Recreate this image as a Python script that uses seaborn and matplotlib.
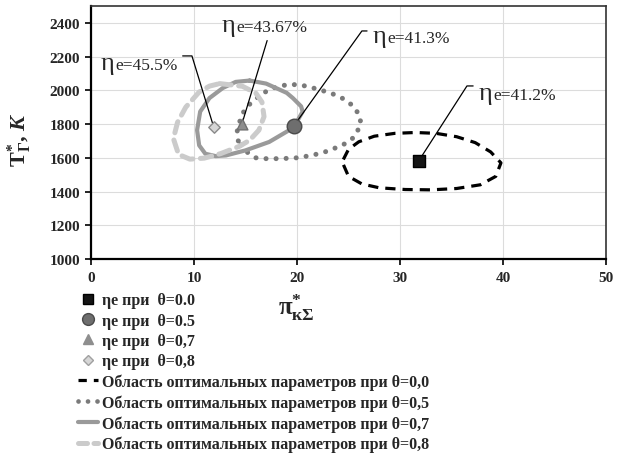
import matplotlib
matplotlib.use("Agg")
import matplotlib.pyplot as plt
from matplotlib.lines import Line2D
from matplotlib.transforms import offset_copy
import seaborn as sns
import pandas as pd

# ---- data -------------------------------------------------------------
theta_marker_labels = ["ηе при  θ=0.0", "ηе при  θ=0.5", "ηе при  θ=0,7", "ηе при  θ=0,8"]
theta_region_labels = ["Область оптимальных параметров при θ=0,0",
                       "Область оптимальных параметров при θ=0,5",
                       "Область оптимальных параметров при θ=0,7",
                       "Область оптимальных параметров при θ=0,8"]

# optimum points (pi_k, T_g) and efficiency at them
opt_pi = [31.8, 19.7, 14.7, 11.9]
opt_T = [1580, 1790, 1800, 1785]
opt_eta = ["41.2", "41.3", "43.67", "45.5"]

# boundaries of the optimal-parameter regions (closed contours)
reg00_pi = [24.5, 25.0, 26.0, 27.5, 29.5, 31.5, 33.5, 35.5, 37.3, 38.8, 39.8, 39.3,
            37.8, 35.5, 33.0, 30.5, 28.0, 26.3, 25.0, 24.5]
reg00_T = [1590, 1650, 1695, 1728, 1745, 1750, 1745, 1725, 1690, 1635, 1570, 1490,
           1440, 1418, 1410, 1412, 1422, 1445, 1490, 1560]

reg05_pi = [14.3, 14.2, 14.6, 15.1, 15.8, 16.6, 17.4, 18.5, 19.5, 20.5, 21.5, 22.5,
            23.5, 24.5, 25.4, 26.1, 26.2, 25.5, 24.5, 23.0, 21.5, 20.0, 18.5, 17.0,
            16.0, 15.0]
reg05_T = [1700, 1760, 1850, 1900, 1940, 1978, 2008, 2028, 2035, 2030, 2015, 1998,
           1978, 1950, 1910, 1850, 1795, 1720, 1678, 1640, 1615, 1600, 1595, 1595,
           1600, 1640]

reg07_pi = [15.4, 17.0, 17.95, 19.0, 19.6, 20.4, 20.55, 20.0, 19.25, 17.3, 15.0,
            13.1, 12.1, 11.1, 10.5, 10.3, 10.6, 11.5, 12.8, 14.05]
reg07_T = [2058, 2040, 2014, 1985, 1954, 1905, 1874, 1815, 1764, 1694, 1644,
           1614, 1610, 1624, 1674, 1764, 1874, 1954, 2014, 2050]

reg08_pi = [12.5, 14.7, 16.0, 16.6, 16.8, 16.3, 15.4, 14.4, 12.6, 11.0, 9.6, 8.5,
            8.0, 8.4, 9.2, 10.5, 11.5]
reg08_T = [2040, 2024, 1984, 1930, 1844, 1764, 1704, 1668, 1625, 1598, 1592, 1620,
           1714, 1810, 1900, 1990, 2025]

x_ticks = [0, 10, 20, 30, 40, 50]
y_ticks = [1000, 1200, 1400, 1600, 1800, 2000, 2200, 2400]

# ---- styling ----------------------------------------------------------
sns.set_style("white")
plt.rcParams["font.family"] = ["Liberation Serif", "DejaVu Serif"]
plt.rcParams["mathtext.fontset"] = "custom"
plt.rcParams["mathtext.rm"] = "Liberation Serif:bold"
plt.rcParams["mathtext.bf"] = "Liberation Serif:bold"
plt.rcParams["mathtext.it"] = "Liberation Serif:bold:italic"
plt.rcParams["mathtext.default"] = "rm"

fig = plt.figure(figsize=(6.26, 4.56), dpi=100)
ax = fig.add_axes([91 / 626, 1 - 260 / 456, 515 / 626, 253 / 456])

def closed(xs, ys):
    return pd.DataFrame({"pi": list(xs) + [xs[0]], "T": list(ys) + [ys[0]]})

region_styles = [
    dict(data=closed(reg00_pi, reg00_T), color="#000000", lw=2.3, dashes=(3.2, 2.2), cap="butt"),
    dict(data=closed(reg05_pi, reg05_T), color="#7a7a7a", lw=3.6, dashes=(0.01, 2.0), cap="round"),
    dict(data=closed(reg07_pi, reg07_T), color="#9a9a9a", lw=3.0, dashes=None, cap="round"),
    dict(data=closed(reg08_pi, reg08_T), color="#cbcbcb", lw=3.6, dashes=(2.3, 1.5), cap="round"),
]

for st in region_styles:
    sns.lineplot(data=st["data"], x="pi", y="T", sort=False, estimator=None,
                 color=st["color"], lw=st["lw"], ax=ax, legend=False)
    ln = ax.lines[-1]
    ln.set_solid_joinstyle("round")
    if st["dashes"] is not None:
        ln.set_dashes(st["dashes"])
        ln.set_dash_capstyle(st["cap"])
    else:
        ln.set_solid_capstyle("round")

# leader lines from each optimum to its label
leaders = [
    ([opt_pi[0], 36.5, 37.1], [opt_T[0], 2026, 2026]),
    ([opt_pi[1], 26.3, 26.8], [opt_T[1], 2352, 2352]),
    ([opt_pi[2], 17.1], [opt_T[2] + 10, 2295]),
    ([opt_pi[3], 9.8, 8.9], [opt_T[3], 2204, 2204]),
]
for lx, ly in leaders:
    ax.plot(lx, ly, color="black", lw=0.9, zorder=4)

marker_styles = [
    dict(marker="s", s=75, color="#151515", edge="#000000"),
    dict(marker="o", s=110, color="#6e6e6e", edge="#4a4a4a"),
    dict(marker="^", s=60, color="#8e8e8e", edge="#707070"),
    dict(marker="D", s=34, color="#d6d6d6", edge="#8a8a8a"),
]
opt_df = pd.DataFrame({"pi": opt_pi, "T": opt_T})
for i, ms in enumerate(marker_styles):
    sns.scatterplot(data=opt_df.iloc[[i]], x="pi", y="T", marker=ms["marker"], s=ms["s"],
                    color=ms["color"], edgecolor=ms["edge"], linewidth=1.0, ax=ax,
                    zorder=5, legend=False)

# efficiency labels
label_pos = [(37.6, 1949), (27.3, 2287), (12.7, 2352), (0.9, 2127)]
for (tx, ty), val in zip(label_pos, opt_eta):
    ax.text(tx, ty, "η", fontsize=19, va="baseline", ha="left", zorder=6)
    tr = offset_copy(ax.transData, fig=fig, x=15, y=0, units="dots")
    ax.text(tx, ty, f"e={val}%", fontsize=12.5, va="baseline", ha="left",
            transform=tr, zorder=6)

# axes
ax.set_xlim(0, 50)
ax.set_ylim(1000, 2500)
ax.set_xticks(x_ticks)
ax.set_yticks(y_ticks)
ax.grid(True, color="#dcdcdc", lw=0.8)
ax.set_axisbelow(True)
for lab in ax.get_xticklabels() + ax.get_yticklabels():
    lab.set_fontweight("bold")
    lab.set_fontsize(11)
ax.tick_params(axis="both", direction="out", length=4, width=1.2, color="black",
               left=True, bottom=True)
ax.tick_params(axis="x", pad=5)
ax.tick_params(axis="y", pad=4)
for side in ["left", "bottom"]:
    ax.spines[side].set_color("black")
    ax.spines[side].set_linewidth(1.6)
for side in ["top", "right"]:
    ax.spines[side].set_color("#333333")
    ax.spines[side].set_linewidth(1.2)
    ax.spines[side].set_visible(True)

ax.set_xlabel("π$^{*}_{кΣ}$", fontsize=18, fontweight="bold")
ax.xaxis.set_label_coords(0.398, -0.128)
ax.set_ylabel(r"$\mathbf{T}^{*}_{Г}$, $\mathit{K}$", fontsize=16, fontweight="bold")
ax.yaxis.set_label_coords(-0.11, 0.474)

# legend
handles = [
    Line2D([], [], ls="none", marker="s", ms=7, mfc="#151515", mec="#000000"),
    Line2D([], [], ls="none", marker="o", ms=8.5, mfc="#6e6e6e", mec="#4a4a4a"),
    Line2D([], [], ls="none", marker="^", ms=6.5, mfc="#8e8e8e", mec="#8e8e8e"),
    Line2D([], [], ls="none", marker="D", ms=5, mfc="#d6d6d6", mec="#a0a0a0"),
    Line2D([], [], color="#000000", lw=2.3, dashes=(2.6, 2.2)),
    Line2D([], [], color="#7a7a7a", lw=3.4, dashes=(0.01, 2.0), dash_capstyle="round"),
    Line2D([], [], color="#9a9a9a", lw=3.0),
    Line2D([], [], color="#cbcbcb", lw=3.6, dashes=(1.8, 1.3), dash_capstyle="round"),
]
leg = fig.legend(handles, theta_marker_labels + theta_region_labels,
                 loc="upper left", bbox_to_anchor=(0.124, 0.357), frameon=False,
                 prop={"family": "Liberation Serif", "weight": "bold", "size": 11.5},
                 handlelength=1.3, handletextpad=0.25, labelspacing=0.27,
                 borderaxespad=0, borderpad=0)

fig.savefig("out.png", dpi=100)
